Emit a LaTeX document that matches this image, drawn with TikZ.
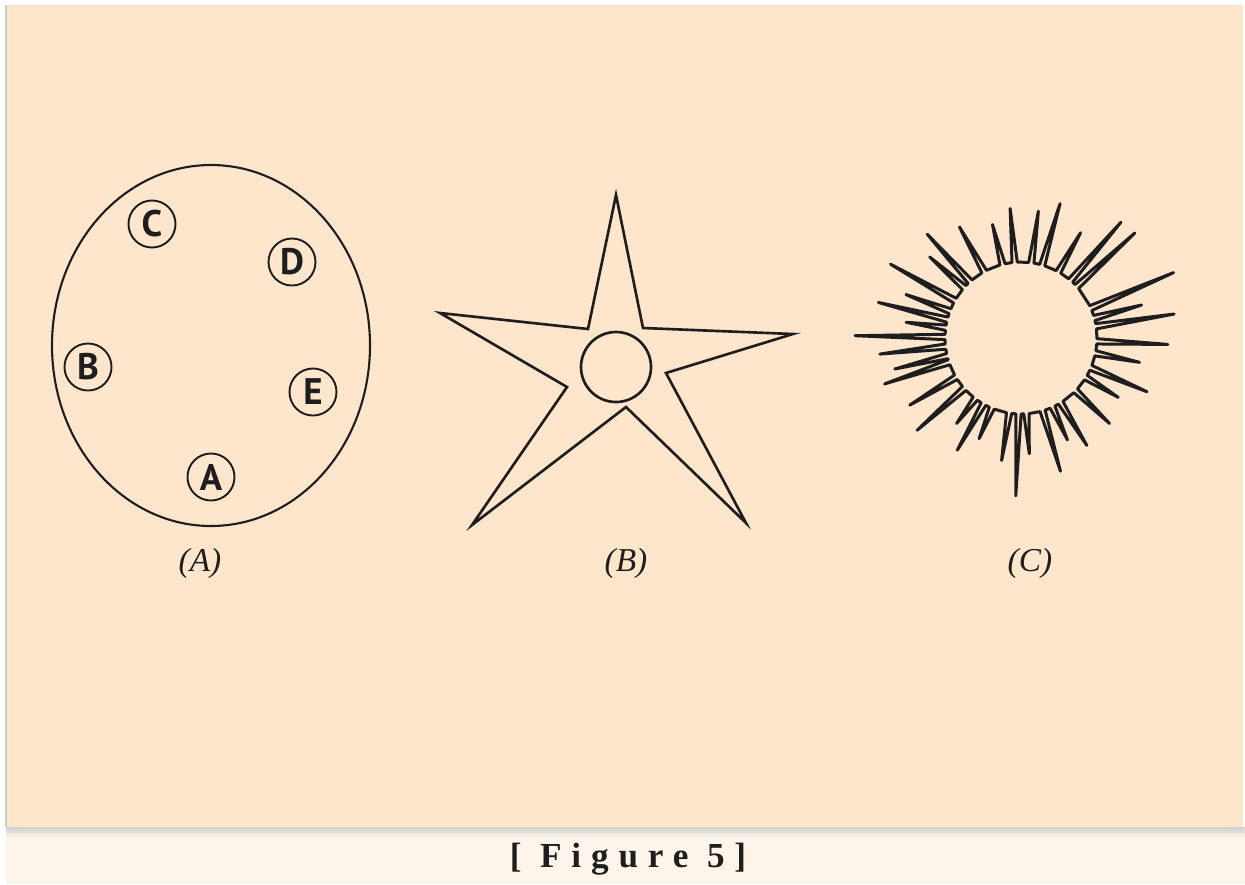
\documentclass[tikz,border=0pt]{standalone}
\usepackage{fontspec}
\setmainfont{Liberation Serif}
\newfontfamily\lettersf{PT Sans}
\newfontfamily\capfont[LetterSpace=28]{Liberation Serif}
\usepackage{tikz}
\usepackage{xcolor}
\usetikzlibrary{positioning,calc}
\definecolor{panel}{HTML}{FDE6CB}
\definecolor{capband}{HTML}{FDF5EA}
\definecolor{ink}{HTML}{1E1E1E}

\begin{document}
\begin{tikzpicture}[
    x=0.01cm, y=-0.01cm,
    cell/.style={draw=ink,line width=0.6pt},
    letter/.style={circle,draw=ink,line width=0.55pt,minimum size=0.47cm,inner sep=0pt,
                   font=\lettersf\bfseries\fontsize{10.5}{10.5}\selectfont,text=ink},
    starline/.style={draw=ink,line width=0.75pt,line join=miter},
    sunline/.style={draw=ink,line width=0.85pt,line join=round},
    tag/.style={font=\itshape\fontsize{9.5}{9.5}\selectfont,text=ink}]
  \useasboundingbox (0,0) rectangle (1245,884);
  % ---- background panel and caption band ----
  \fill[white] (0,0) rectangle (1245,884);
  \fill[capband] (6,827) rectangle (1245,884);
  \shade[top color=black!18,bottom color=capband] (6,827) rectangle (1245,838);
  \fill[panel] (6,5) rectangle (1243,827);
  \draw[black!20,line width=0.4pt] (6,5) -- (6,827);

  % ---- (A): cell with five circled markers ----
  \draw[cell] (211,345.5) ellipse [x radius=159, y radius=180.5];
  \node[letter] (mC) at (152,224) {C};
  \node[letter] (mD) at (292,262) {D};
  \node[letter] (mB) at (88,367) {B};
  \node[letter] (mE) at (313,392) {E};
  \node[letter] (mA) at (211,477) {A};
  \node[tag] (tA) at (200,563) {(A)};

  % ---- (B): five-pointed star with a round core ----
  \draw[starline] (616,195) -- (643,328) -- (793,334) -- (666,373) -- (746,523)
     -- (626,407) -- (472,525) -- (567,387) -- (440,313) -- (588,329) -- cycle;
  \draw[starline] (616,367) circle [radius=35];
  \node[tag] (tB) at (626,563) {(B)};

  % ---- (C): ring with spikes (angle/tip radius) ----
  \begin{scope}[shift={(1021,338)}]
    \draw[sunline] (-96.8:76)
      \foreach \s/\r in {-94.8/130,-82.2/128,-73.8/140,-60.5/121,-49.2/153,-42.7/155,
                         -23.2/166,-15.3/125,-8.9/155,2.5/147,11.6/121,23.1/137,
                         31.4/114,44/123,58.5/126,65.5/112,73.5/139,85.9/116,
                         91.9/158,99/124,112.6/109,119.6/129,127/107,138.4/139,
                         148.9/130,161.4/144,166.2/130,173.5/142,180.8/166,187.8/116,
                         194/147,200.7/123,209.5/150,221.6/122,227.9/140,241/127,255.9/117}
      { -- (\s-2:76) -- (\s:\r) -- (\s+2:76) } -- cycle;
  \end{scope}
  \node[tag] (tC) at (1030,563) {(C)};

  % ---- caption ----
  \node[font=\capfont\bfseries\fontsize{10}{10}\selectfont,text=ink] (cap) at (628,859) {[ Figure 5]};
\end{tikzpicture}
\end{document}
